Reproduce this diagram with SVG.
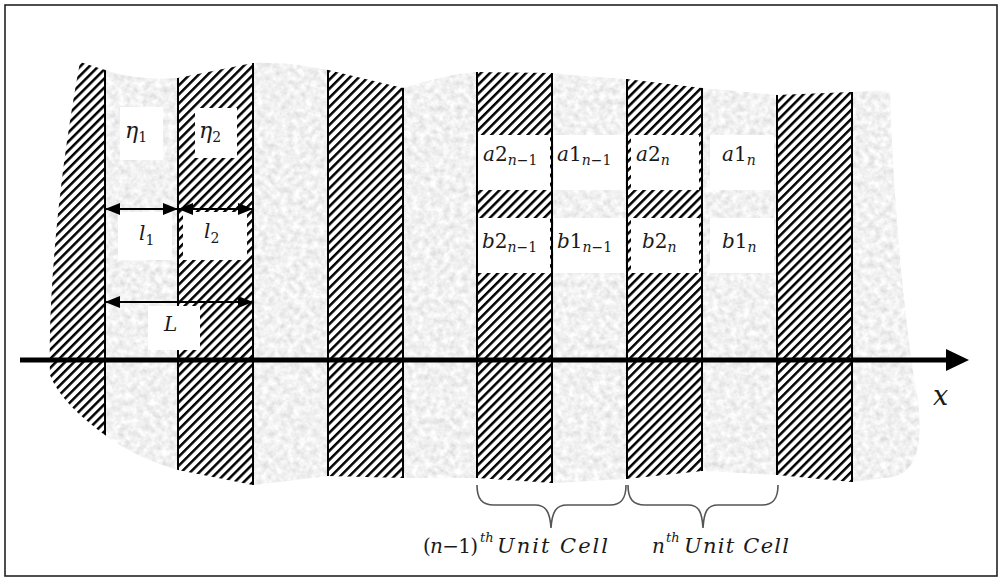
<svg xmlns="http://www.w3.org/2000/svg" width="1000" height="580" viewBox="0 0 1000 580">
<style>
.m{font-family:"DejaVu Serif","Liberation Serif",serif;font-size:20px;fill:#1a1a1a;}
.i{font-style:italic;}
.sub{font-size:14px;}
.box{fill:#ffffff;}
.vl{stroke:#000;stroke-width:2;}
.dim{stroke:#000;stroke-width:2;fill:none;marker-start:url(#ah);marker-end:url(#ah);}
.brace{stroke:#555;stroke-width:1.6;fill:none;}
</style>
<defs>
<pattern id="hatch" patternUnits="userSpaceOnUse" width="6.4" height="6.4" patternTransform="rotate(45)">
<rect width="6.4" height="6.4" fill="#fff"/>
<rect x="0" y="0" width="2.5" height="6.4" fill="#000"/>
</pattern>
<filter id="grain" x="0" y="0" width="1" height="1">
<feTurbulence type="fractalNoise" baseFrequency="0.16" numOctaves="4" seed="7" result="n"/>
<feColorMatrix in="n" type="matrix" values="0.45 0 0 0 0.655  0.45 0 0 0 0.655  0.45 0 0 0 0.655  0 0 0 0 1" result="g"/>
<feComposite in="g" in2="SourceGraphic" operator="in"/>
</filter>
<clipPath id="blob">
<path d="M80,62 L105,70 C130,78 155,80 178,78 L253,63 C280,62 305,65 328,70 L403,88 C430,80 455,73 477,72 L552,73 C580,76 605,78 626,79 L702,88 L777,95 L852,92 L890,90 C893,200 905,330 918,400 C922,440 920,470 893,477 L852,482 L777,475 L702,471 L626,479 L552,483 L477,478 L403,478 L328,476 L253,485 L178,470 C150,462 125,450 105,435 C85,420 60,400 50,375 C48,300 58,180 80,62 Z"/>
</clipPath>
<marker id="ah" markerUnits="userSpaceOnUse" markerWidth="15" markerHeight="12" refX="15" refY="6" orient="auto-start-reverse">
<path d="M0,0 L15,6 L0,12 z" fill="#000"/>
</marker>
</defs>

<rect x="0" y="0" width="1000" height="580" fill="#fff"/>
<rect x="5" y="5" width="992" height="571" fill="none" stroke="#222" stroke-width="1.6"/>

<g id="medium">
<path filter="url(#grain)" fill="#ddd" d="M80,62 L105,70 C130,78 155,80 178,78 L253,63 C280,62 305,65 328,70 L403,88 C430,80 455,73 477,72 L552,73 C580,76 605,78 626,79 L702,88 L777,95 L852,92 L890,90 C893,200 905,330 918,400 C922,440 920,470 893,477 L852,482 L777,475 L702,471 L626,479 L552,483 L477,478 L403,478 L328,476 L253,485 L178,470 C150,462 125,450 105,435 C85,420 60,400 50,375 C48,300 58,180 80,62 Z"/>
</g>

<g id="layers" clip-path="url(#blob)">
<rect x="40" y="50" width="65" height="450" fill="url(#hatch)"/>
<rect x="178" y="50" width="75" height="450" fill="url(#hatch)"/>
<rect x="328" y="50" width="75" height="450" fill="url(#hatch)"/>
<rect x="477" y="50" width="75" height="450" fill="url(#hatch)"/>
<rect x="627" y="50" width="75" height="450" fill="url(#hatch)"/>
<rect x="777" y="50" width="75" height="450" fill="url(#hatch)"/>
<line class="vl" x1="105" y1="50" x2="105" y2="500"/>
<line class="vl" x1="178" y1="50" x2="178" y2="500"/>
<line class="vl" x1="253" y1="50" x2="253" y2="500"/>
<line class="vl" x1="328" y1="50" x2="328" y2="500"/>
<line class="vl" x1="403" y1="50" x2="403" y2="500"/>
<line class="vl" x1="477" y1="50" x2="477" y2="500"/>
<line class="vl" x1="552" y1="50" x2="552" y2="500"/>
<line class="vl" x1="627" y1="50" x2="627" y2="500"/>
<line class="vl" x1="702" y1="50" x2="702" y2="500"/>
<line class="vl" x1="777" y1="50" x2="777" y2="500"/>
<line class="vl" x1="852" y1="50" x2="852" y2="500"/>
</g>

<g id="label-eta1"><rect class="box" x="120" y="107" width="43" height="53"/><text class="m" x="125" y="138" style="font-size:22px"><tspan class="i">η</tspan><tspan class="sub" dy="4">1</tspan></text></g>
<g id="label-eta2"><rect class="box" x="195" y="108" width="42" height="50"/><text class="m" x="199" y="138" style="font-size:22px"><tspan class="i">η</tspan><tspan class="sub" dy="4">2</tspan></text></g>
<g id="label-l1"><rect class="box" x="118" y="212" width="54" height="48"/><text class="m" x="139" y="240"><tspan class="i">l</tspan><tspan class="sub" dy="5">1</tspan></text></g>
<g id="label-l2"><rect class="box" x="183" y="212" width="64" height="48"/><text class="m" x="204" y="238"><tspan class="i">l</tspan><tspan class="sub" dy="5">2</tspan></text></g>
<g id="label-L"><rect class="box" x="148" y="306" width="52" height="44"/><text class="m i" x="164" y="331">L</text></g>

<g id="label-a2n1"><rect class="box" x="478" y="135" width="72" height="55"/><text class="m" x="483" y="161"><tspan class="i">a</tspan>2<tspan class="sub" dy="4"><tspan class="i">n</tspan>−1</tspan></text></g>
<g id="label-a1n1"><rect class="box" x="554" y="135" width="71" height="55"/><text class="m" x="557" y="161"><tspan class="i">a</tspan>1<tspan class="sub" dy="4"><tspan class="i">n</tspan>−1</tspan></text></g>
<g id="label-a2n"><rect class="box" x="631" y="135" width="68" height="55"/><text class="m" x="636" y="161"><tspan class="i">a</tspan>2<tspan class="sub i" dy="4">n</tspan></text></g>
<g id="label-a1n"><rect class="box" x="710" y="135" width="64" height="55"/><text class="m" x="722" y="161"><tspan class="i">a</tspan>1<tspan class="sub i" dy="4">n</tspan></text></g>
<g id="label-b2n1"><rect class="box" x="478" y="218" width="72" height="55"/><text class="m" x="482" y="248"><tspan class="i">b</tspan>2<tspan class="sub" dy="4"><tspan class="i">n</tspan>−1</tspan></text></g>
<g id="label-b1n1"><rect class="box" x="554" y="218" width="71" height="55"/><text class="m" x="557" y="248"><tspan class="i">b</tspan>1<tspan class="sub" dy="4"><tspan class="i">n</tspan>−1</tspan></text></g>
<g id="label-b2n"><rect class="box" x="631" y="218" width="68" height="55"/><text class="m" x="642" y="248"><tspan class="i">b</tspan>2<tspan class="sub i" dy="4">n</tspan></text></g>
<g id="label-b1n"><rect class="box" x="710" y="218" width="64" height="55"/><text class="m" x="722" y="248"><tspan class="i">b</tspan>1<tspan class="sub i" dy="4">n</tspan></text></g>

<g id="connectors">
<line class="dim" x1="105" y1="209" x2="178" y2="209"/>
<line class="dim" x1="178" y1="209" x2="253" y2="209"/>
<line class="dim" x1="105" y1="302" x2="253" y2="302"/>
<line x1="20" y1="360" x2="950" y2="360" stroke="#000" stroke-width="5"/>
<polygon points="946,349 969,360 946,371" fill="#000"/>
<path class="brace" d="M477,485 C477,499 482,505 494,505 L535,505 C546,505 550,512 551,528 C552,512 556,505 567,505 L610,505 C621,505 626,499 626,485"/>
<path class="brace" d="M628,485 C628,499 633,505 645,505 L688,505 C699,505 702,512 703,528 C704,512 707,505 718,505 L762,505 C773,505 778,499 778,485"/>
</g>

<g id="axis-label"><text class="m i" x="933" y="405" style="font-size:27px">x</text></g>

<g id="cell-labels">
<text class="m" x="423" y="553" textLength="55" lengthAdjust="spacing">(<tspan class="i">n</tspan>−1)</text>
<text class="m i" x="480" y="542" style="font-size:13px">th</text>
<text class="m i" x="497" y="553" style="font-size:21px" textLength="111" lengthAdjust="spacing">Unit Cell</text>
<text class="m i" x="652" y="553">n</text>
<text class="m i" x="666" y="542" style="font-size:13px">th</text>
<text class="m i" x="684" y="553" style="font-size:21px" textLength="105" lengthAdjust="spacing">Unit Cell</text>
</g>
</svg>
